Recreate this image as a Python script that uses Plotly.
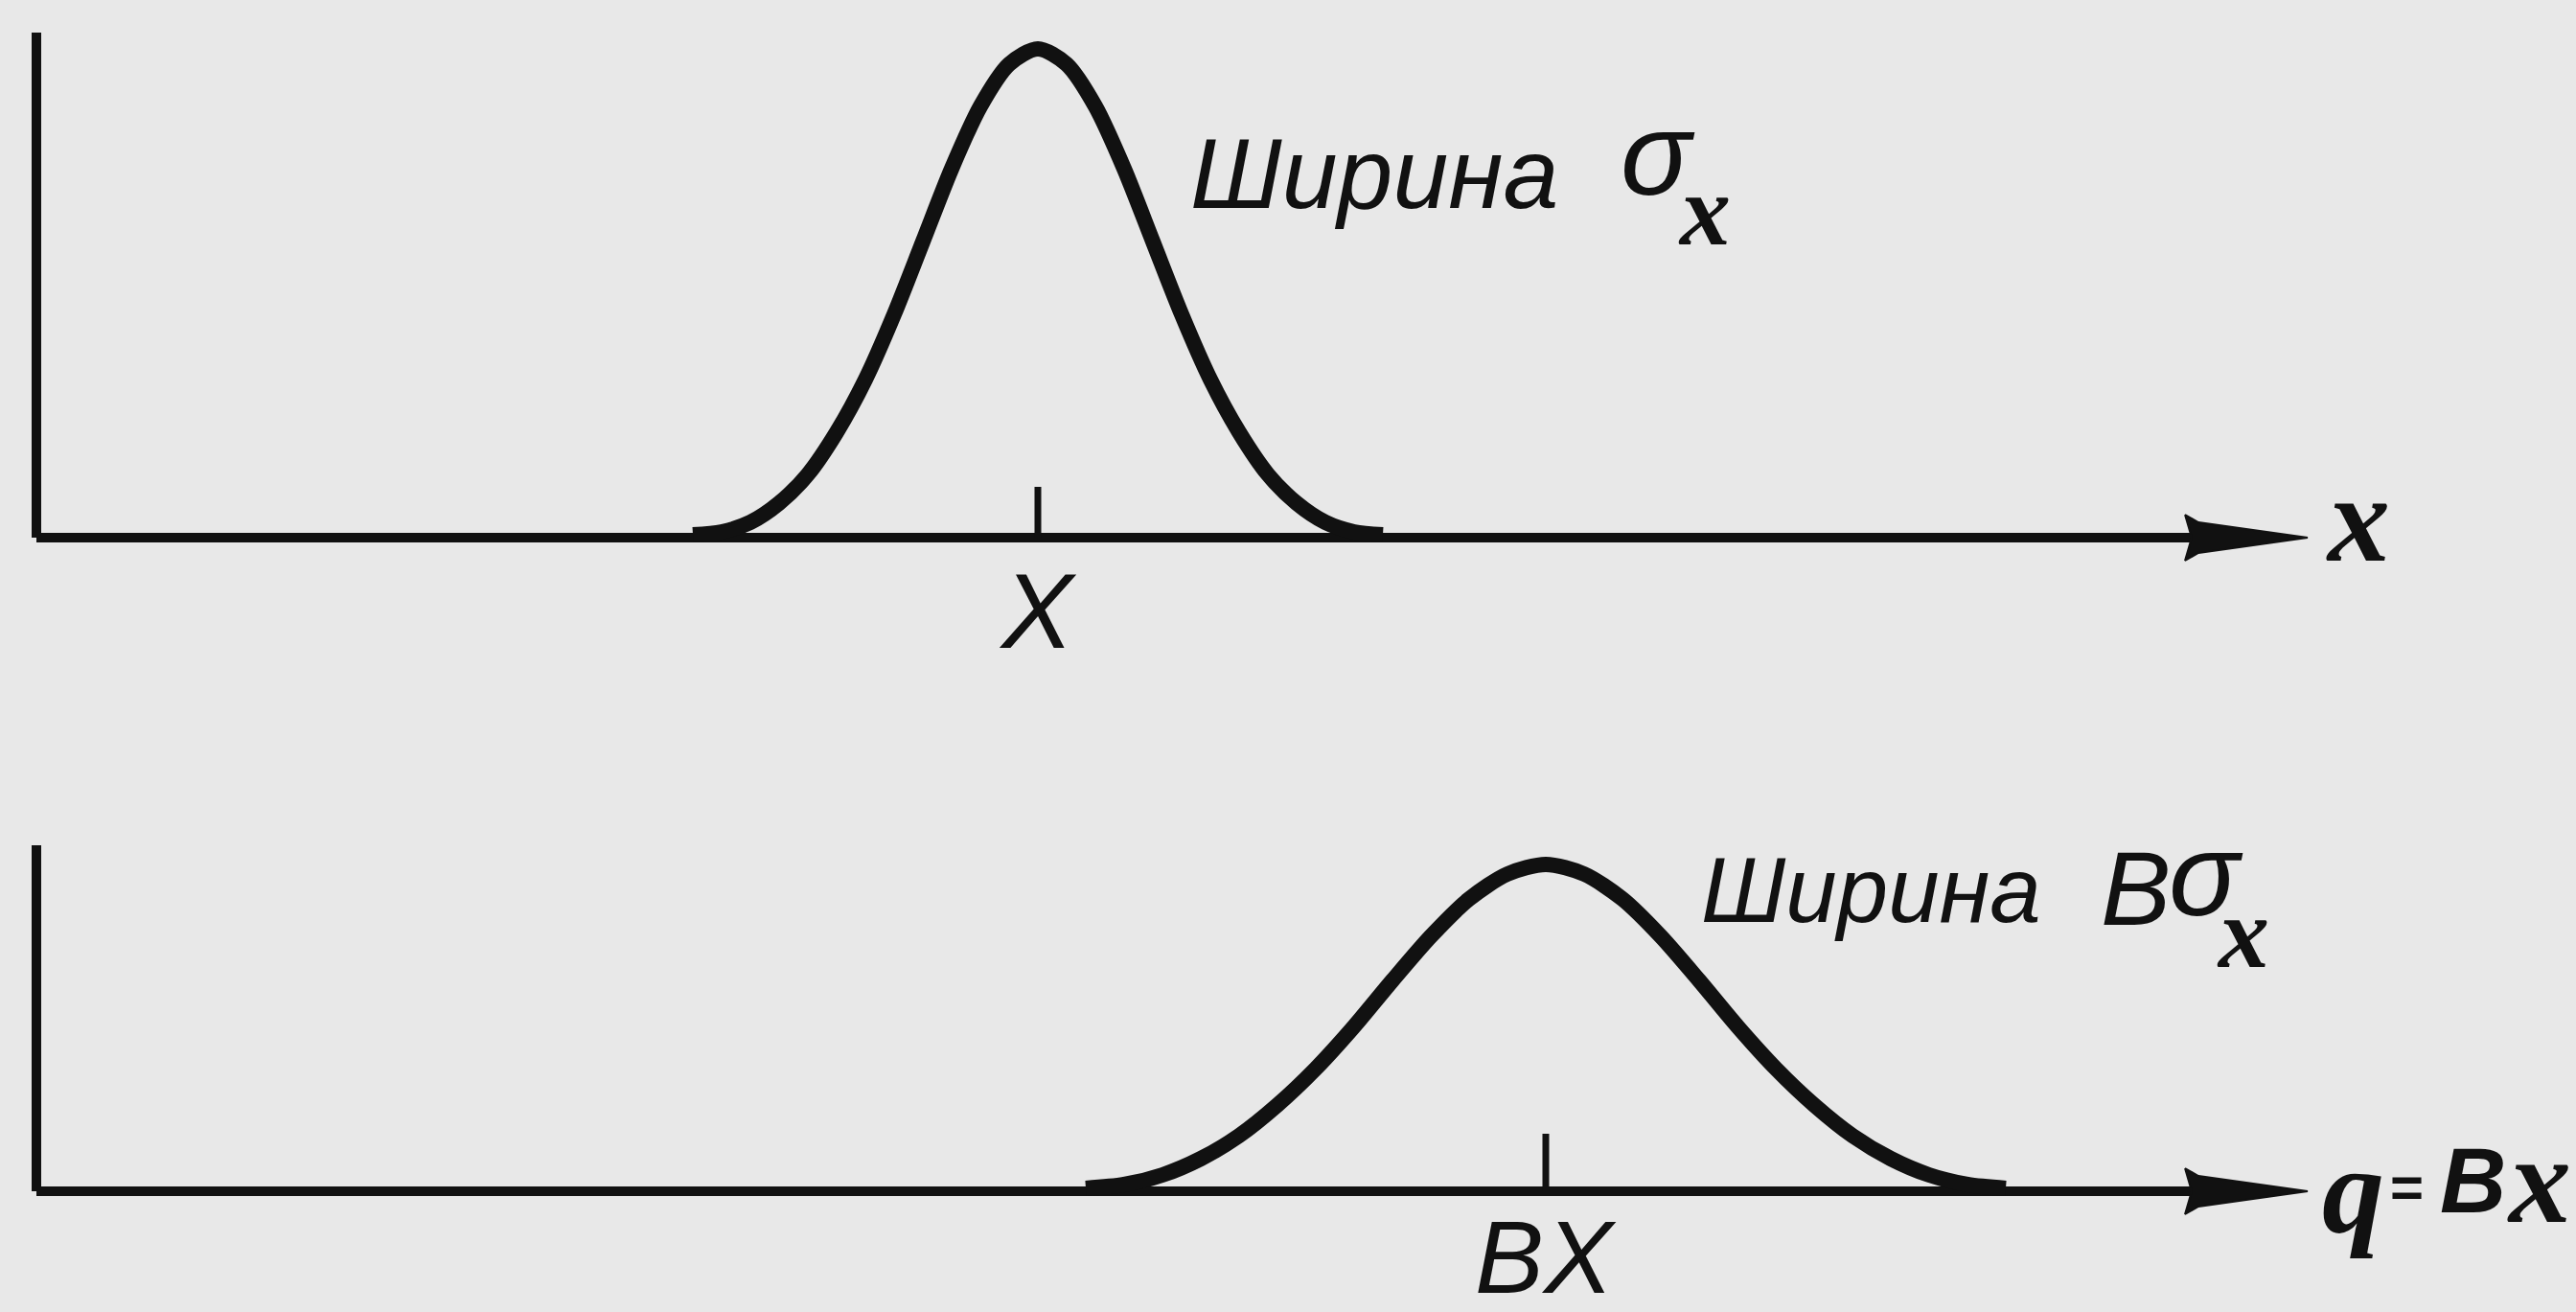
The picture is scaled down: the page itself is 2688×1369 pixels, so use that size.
import plotly.graph_objects as go

# ---- data -------------------------------------------------------------
# Distribution in x (upper panel), sampled along the drawn curve
top_x = [6.85, 7.15, 7.45, 7.75, 8.05, 8.35, 8.65, 8.95, 9.25, 9.55,
         9.85, 10.15, 10.45, 10.75, 11.05, 11.35, 11.65, 11.95, 12.25, 12.55,
         12.85, 13.15, 13.45, 13.75, 14.05]
top_y = [0.03, 0.06, 0.16, 0.36, 0.66, 1.10, 1.65, 2.33, 3.09, 3.85,
         4.50, 4.94, 5.10, 4.94, 4.50, 3.85, 3.09, 2.33, 1.65, 1.10,
         0.66, 0.36, 0.16, 0.06, 0.03]

# Distribution in q = Bx (lower panel)
bot_x = [10.95, 11.35, 11.75, 12.15, 12.55, 12.95, 13.35, 13.75, 14.15, 14.55,
         14.95, 15.35, 15.75, 16.15, 16.55, 16.95, 17.35, 17.75, 18.15, 18.55,
         18.95, 19.35, 19.75, 20.15, 20.55]
bot_y = [0.03, 0.07, 0.17, 0.34, 0.58, 0.90, 1.28, 1.72, 2.20, 2.66,
         3.05, 3.31, 3.41, 3.31, 3.05, 2.66, 2.20, 1.72, 1.28, 0.90,
         0.58, 0.34, 0.17, 0.07, 0.03]

top_mean = 10.45       # X
bot_mean = 15.75       # BX
top_axis_height = 5.27
bot_axis_height = 3.61
axis_end = 23.70       # tip of the horizontal axis arrows

# ---- styling ------------------------------------------------------------
INK = "#111111"
BG = "#e8e8e8"
SANS = "Liberation Sans"
SERIF = "Liberation Serif"
CURVE_W = 16
AXIS_W = 10
TICK_W = 7
TICK_TOP = 0.53
TICK_BOT = 0.60

fig = go.Figure()


def axis_frame(yax, height, tick_x, tick_h):
    # vertical axis
    fig.add_trace(go.Scatter(x=[0, 0], y=[height, 0], mode="lines", yaxis=yax,
                             line=dict(color=INK, width=AXIS_W), hoverinfo="skip"))
    # horizontal axis up to the arrowhead
    fig.add_trace(go.Scatter(x=[0, axis_end - 1.2], y=[0, 0], mode="lines", yaxis=yax,
                             line=dict(color=INK, width=AXIS_W), hoverinfo="skip"))
    # arrowhead (narrow dart with small back barbs)
    L = 1.28
    ax = [axis_end - L, axis_end - L + 0.14, axis_end, axis_end - L + 0.14,
          axis_end - L, axis_end - L + 0.07, axis_end - L]
    ay = [0.24, 0.16, 0.0, -0.16, -0.24, 0.0, 0.24]
    fig.add_trace(go.Scatter(x=ax, y=ay, mode="lines", fill="toself", yaxis=yax,
                             fillcolor=INK, line=dict(color=INK, width=2),
                             hoverinfo="skip"))
    # tick at the mean
    fig.add_trace(go.Scatter(x=[tick_x, tick_x], y=[0, tick_h], mode="lines", yaxis=yax,
                             line=dict(color=INK, width=TICK_W), hoverinfo="skip"))


axis_frame("y", top_axis_height, top_mean, TICK_TOP)
axis_frame("y2", bot_axis_height, bot_mean, TICK_BOT)

fig.add_trace(go.Scatter(x=top_x, y=top_y, mode="lines", yaxis="y",
                         line=dict(color=INK, width=CURVE_W, shape="spline", smoothing=0.8),
                         hoverinfo="skip"))
fig.add_trace(go.Scatter(x=bot_x, y=bot_y, mode="lines", yaxis="y2",
                         line=dict(color=INK, width=CURVE_W, shape="spline", smoothing=0.8),
                         hoverinfo="skip"))


def label(text, x, y, yref, size, family=SANS, xanchor="center"):
    fig.add_annotation(text=text, x=x, y=y, xref="x", yref=yref, showarrow=False,
                       xanchor=xanchor, yanchor="middle",
                       font=dict(family=family, size=size, color=INK))


# upper panel labels
label("<i>Ширина</i>", 12.02, 3.80, "y", 104, xanchor="left")
label("<i>σ</i>", 16.92, 4.00, "y", 122)
label("<b><i>x</i></b>", 17.40, 3.42, "y", 106, family=SERIF)
label("<i>X</i>", top_mean, -0.76, "y", 112)
label("<b><i>x</i></b>", 24.22, 0.20, "y", 130, family=SERIF)

# lower panel labels
label("<i>Ширина</i>", 17.35, 3.15, "y2", 96, xanchor="left")
label("<i>B</i>", 21.90, 3.17, "y2", 110)
label("<i>σ</i>", 22.64, 3.30, "y2", 122)
label("<b><i>x</i></b>", 23.02, 2.70, "y2", 106, family=SERIF)
label("<i>BX</i>", bot_mean, -0.68, "y2", 108)
label("<b><i>q</i></b>", 24.17, 0.02, "y2", 130, family=SERIF)
label("<b>=</b>", 24.73, 0.05, "y2", 60)
label("<b><i>B</i></b>", 25.42, 0.12, "y2", 96)
label("<b><i>x</i></b>", 26.11, 0.12, "y2", 130, family=SERIF)

hidden = dict(visible=False, showgrid=False, zeroline=False, fixedrange=True)
fig.update_layout(
    width=2688, height=1369,
    margin=dict(l=0, r=0, t=0, b=0),
    paper_bgcolor=BG, plot_bgcolor=BG,
    showlegend=False,
    xaxis=dict(range=[-0.38, 26.50], **hidden),
    yaxis=dict(range=[-8.08, 5.61], **hidden),
    yaxis2=dict(range=[-1.26, 12.43], overlaying="y", **hidden),
)

fig.write_html("out.html")
